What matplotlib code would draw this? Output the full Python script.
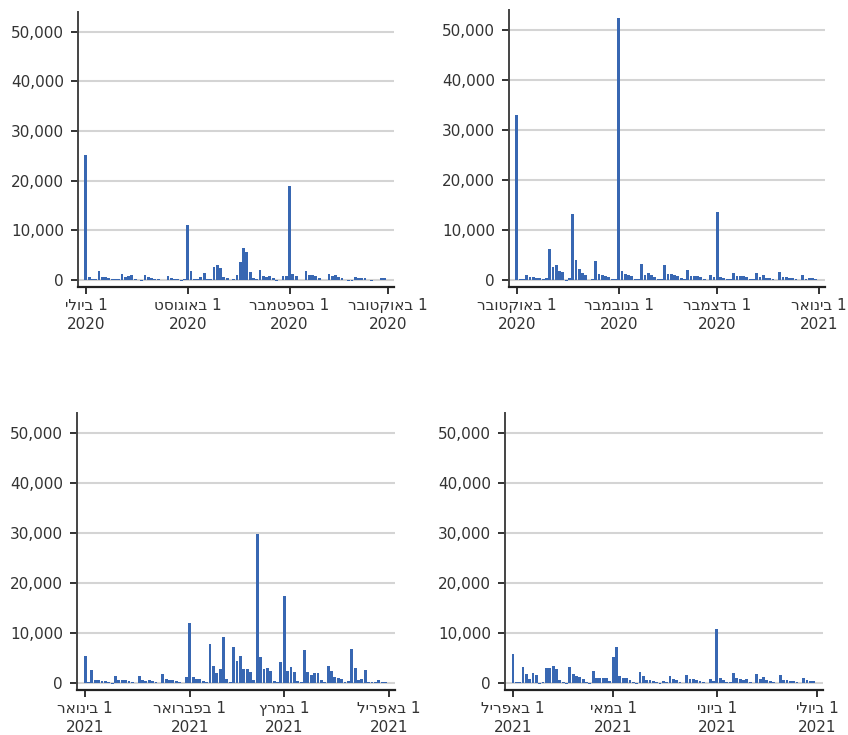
import matplotlib
matplotlib.use("Agg")
import matplotlib.pyplot as plt
import matplotlib.ticker as mticker
import pandas as pd

# daily values (one list per panel)
jul_sep_2020 = [25100, 670, 130, 130, 1870, 670, 670, 470, 270, 270,
                130, 1270, 530, 730, 1070, 270, 70, -150, 1070, 670,
                470, 270, 270, 0, 0, 870, 470, 270, 270, -100,
                130, 11070, 1870, 270, 130, 670, 1470, 270, 130, 2670,
                3070, 2470, 670, 470, 0, 270, 1070, 3670, 6470, 5670,
                1670, 470, 270, 2070, 870, 670, 870, 470, -100, 0,
                870, 870, 18870, 1270, 870, 0, 0, 1870, 1070, 1070,
                870, 470, 70, 0, 1270, 870, 1070, 670, 470, 70,
                -150, -100, 670, 470, 470, 470, 0, -150, 0, 0,
                470, 470]
oct_dec_2020 = [32950, 130, 130, 930, 530, 530, 330, 330, 130, 330,
                6140, 2530, 2930, 1730, 1530, -150, 330, 13140, 3930, 2130,
                1330, 930, -100, 130, 3730, 1130, 930, 730, 530, 130,
                130, 52400, 1730, 1130, 930, 730, 130, 130, 3130, 930,
                1330, 930, 530, 130, 130, 2930, 1200, 1200, 1000, 800,
                330, 130, 2000, 800, 800, 800, 530, 130, 0, 1000,
                530, 13600, 530, 330, 130, 130, 1400, 800, 800, 800,
                530, 130, 130, 1400, 530, 1000, 330, 330, 130, 0,
                1600, 530, 530, 330, 330, 130, 0, 1000, 130, 330,
                330, 130]
jan_mar_2021 = [5400, 200, 2600, 600, 600, 400, 400, 200, -100, 1400,
                600, 600, 600, 400, 200, 0, 1400, 600, 400, 600,
                400, 200, 0, 1800, 800, 600, 600, 400, 200, 0,
                1200, 12000, 1200, 800, 800, 400, 200, 7800, 3400, 2000,
                2800, 9200, 800, 200, 7200, 4400, 5400, 2800, 2800, 2200,
                600, 29800, 5200, 2800, 3000, 2400, 400, 200, 4200, 17400,
                2400, 3200, 2200, 400, 200, 6600, 2200, 1600, 2000, 2000,
                600, 200, 3400, 2400, 1200, 1000, 800, 200, 400, 6800,
                3000, 600, 800, 2600, 200, 200, 200, 600, 200, 200]
apr_jun_2021 = [5730, 130, 130, 3130, 1730, 730, 1930, 1530, -100, 130,
                2930, 2930, 3330, 2730, 530, 130, -100, 3130, 1730, 1330,
                1130, 730, 130, -100, 2330, 930, 930, 930, 930, 330,
                5130, 7130, 1330, 930, 930, 530, 130, -150, 2130, 1330,
                530, 530, 330, 130, -100, 330, 130, 1330, 730, 530,
                130, 0, 1530, 730, 730, 530, 330, 130, 0, 730,
                330, 10730, 930, 530, 130, 130, 1930, 930, 730, 530,
                730, 130, 0, 1730, 730, 1130, 530, 330, 130, 0,
                1530, 530, 530, 330, 330, 130, 0, 930, 530, 330,
                330]

panel_starts = ["2020-07-01", "2020-10-01", "2021-01-01", "2021-04-01"]
panel_values = [jul_sep_2020, oct_dec_2020, jan_mar_2021, apr_jun_2021]

# month tick labels (logical Hebrew order)
tick_months = [
    ["2020-07-01", "2020-08-01", "2020-09-01", "2020-10-01"],
    ["2020-10-01", "2020-11-01", "2020-12-01", "2021-01-01"],
    ["2021-01-01", "2021-02-01", "2021-03-01", "2021-04-01"],
    ["2021-04-01", "2021-05-01", "2021-06-01", "2021-07-01"],
]
month_names = {7: "1 ביולי", 8: "1 באוגוסט", 9: "1 בספטמבר", 10: "1 באוקטובר",
               11: "1 בנובמבר", 12: "1 בדצמבר", 1: "1 בינואר", 2: "1 בפברואר",
               3: "1 במרץ", 4: "1 באפריל", 5: "1 במאי", 6: "1 ביוני"}

y_ticks = [0, 10000, 20000, 30000, 40000, 50000]


def rtl(s):
    # matplotlib has no bidi support: lay the right-to-left text out by hand
    return s[::-1]


bar_color = "#3867b2"
plt.rcParams["font.family"] = ["DejaVu Sans"]

fig = plt.figure(figsize=(8.48, 7.35), dpi=100)
W, H = 848, 735
boxes = [(78, 12, 394, 287), (509, 10, 825, 287),
         (77, 413, 395, 690), (505, 413, 823, 690)]

for box, start, vals, ticks in zip(boxes, panel_starts, panel_values, tick_months):
    x0, y0, x1, y1 = box
    ax = fig.add_axes([x0 / W, 1 - y1 / H, (x1 - x0) / W, (y1 - y0) / H])
    dates = pd.date_range(start, periods=len(vals), freq="D")
    ax.bar(dates, vals, width=0.85, color=bar_color, zorder=3)

    ax.set_xlim(dates[0] - pd.Timedelta(days=2.4), dates[-1] + pd.Timedelta(days=2.8))
    ax.set_ylim(-1400, 54000)

    tick_dates = pd.to_datetime(ticks)
    ax.set_xticks(tick_dates)
    ax.set_xticklabels([rtl(month_names[d.month]) + "\n" + str(d.year) for d in tick_dates],
                       linespacing=1.35)
    ax.set_yticks(y_ticks)
    ax.yaxis.set_major_formatter(mticker.FuncFormatter(lambda v, p: f"{v:,.0f}"))

    ax.grid(axis="y", color="#d4d4d4", linewidth=1.5, zorder=0)
    ax.set_axisbelow(True)
    for s in ["top", "right"]:
        ax.spines[s].set_visible(False)
    ax.spines["left"].set_color("#444444")
    ax.spines["left"].set_linewidth(1.4)
    ax.spines["bottom"].set_color("#222222")
    ax.spines["bottom"].set_linewidth(1.6)
    ax.tick_params(axis="both", labelsize=11, colors="#333333", length=5, width=1.4)
    ax.tick_params(axis="x", pad=3)
    ax.tick_params(axis="y", pad=5)

fig.savefig("out.png", dpi=100)
